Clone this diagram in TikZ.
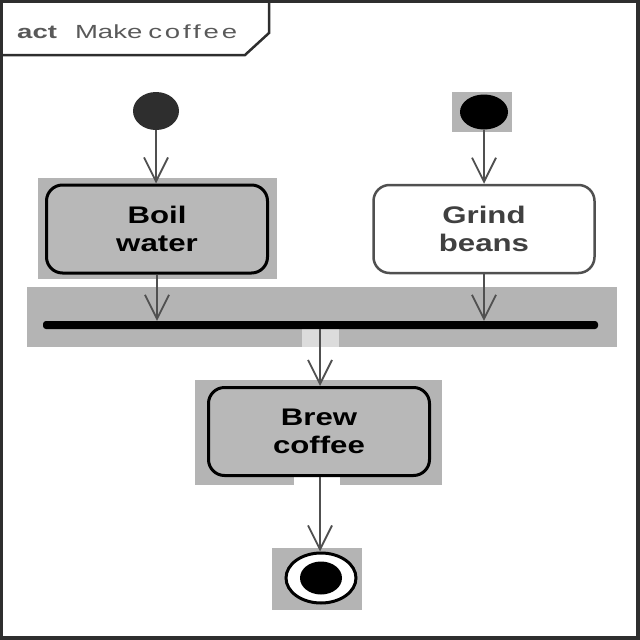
\documentclass[tikz,border=0pt]{standalone}
\usepackage{fontspec}
\setmainfont{Liberation Sans}
\newfontfamily\boxfont[FakeStretch=1.3]{Liberation Sans}
\newfontfamily\titlefont[FakeStretch=1.45]{Liberation Sans}
\newfontfamily\titlewide[FakeStretch=1.45,LetterSpace=15]{Liberation Sans}
\usetikzlibrary{arrows.meta,shapes.geometric}
\definecolor{bandgray}{HTML}{B4B4B4}
\definecolor{boxgray}{HTML}{B8B8B8}
\definecolor{lightgray2}{HTML}{DCDCDC}
\definecolor{framegray}{HTML}{2E2E2E}
\definecolor{linegray}{HTML}{505050}
\tikzset{
  action/.style={rectangle, rounded corners=16pt, minimum width=221pt, minimum height=88pt,
    align=center, font=\boxfont\bfseries\fontsize{24}{28}\selectfont, inner sep=0pt},
  flow/.style={draw=linegray, line width=2pt, -{Straight Barb[length=24pt,width=24pt,line width=1.8pt]}},
}
\begin{document}
\begin{tikzpicture}[x=1pt,y=-1pt]
\useasboundingbox (0,0) rectangle (640,640);
% highlight backgrounds
\fill[bandgray] (38,178) rectangle (277,279);
\fill[bandgray] (452,92) rectangle (512,132);
\fill[bandgray] (27,287) rectangle (617,347);
\fill[lightgray2] (302,325) rectangle (339,347);
\fill[bandgray] (195,380) rectangle (442,485);
\fill[white] (294,476) rectangle (340,485);
\fill[bandgray] (272,548) rectangle (362,610);
% frame
\draw[framegray, line width=3.5pt] (1.5,1.5) rectangle (638,638);
\draw[framegray, line width=2.5pt] (1.5,55) -- (245,55) -- (269,33) -- (269,1.5);
\node[anchor=west, inner sep=0pt, text=black!65] (title) at (17,32)
  {\titlefont\fontsize{19}{22}\selectfont\textbf{act}\hspace{18pt}Make\hspace{6pt}{\titlewide coffee}};
% nodes
\node[ellipse, fill=framegray, minimum width=46pt, minimum height=38pt, inner sep=0pt] (s1) at (156,111) {};
\node[ellipse, fill=black, minimum width=48pt, minimum height=35pt, inner sep=0pt] (s2) at (484,112) {};
\node[action, draw=black, line width=3pt, fill=boxgray] (boil) at (157,229) {Boil\\water};
\node[action, draw=linegray, line width=2.5pt, fill=white, text=black!75] (grind) at (484,229) {Grind\\beans};
\node[rectangle, fill=black, rounded corners=3pt, minimum width=555pt, minimum height=8pt, inner sep=0pt] (bar) at (320.5,325) {};
\node[action, draw=black, line width=3pt, fill=boxgray] (brew) at (319,431.5) {Brew\\coffee};
\node[ellipse, draw=black, line width=3pt, fill=white, minimum width=70pt, minimum height=50pt, inner sep=0pt] (final) at (321,578) {};
\node[ellipse, fill=black, minimum width=42pt, minimum height=33pt, inner sep=0pt] (finalin) at (321,578) {};
% connectors
\draw[flow] (s1) -- (s1 |- boil.north);
\draw[flow] (s2) -- (s2 |- grind.north);
\draw[flow] (boil.south) -- (boil.south |- bar.north);
\draw[flow] (grind.south) -- (grind.south |- bar.north);
\draw[flow] (bar.south -| 320,0) -- (320,0 |- brew.north);
\draw[flow] (brew.south -| 320,0) -- (320,0 |- final.north);
\end{tikzpicture}
\end{document}
